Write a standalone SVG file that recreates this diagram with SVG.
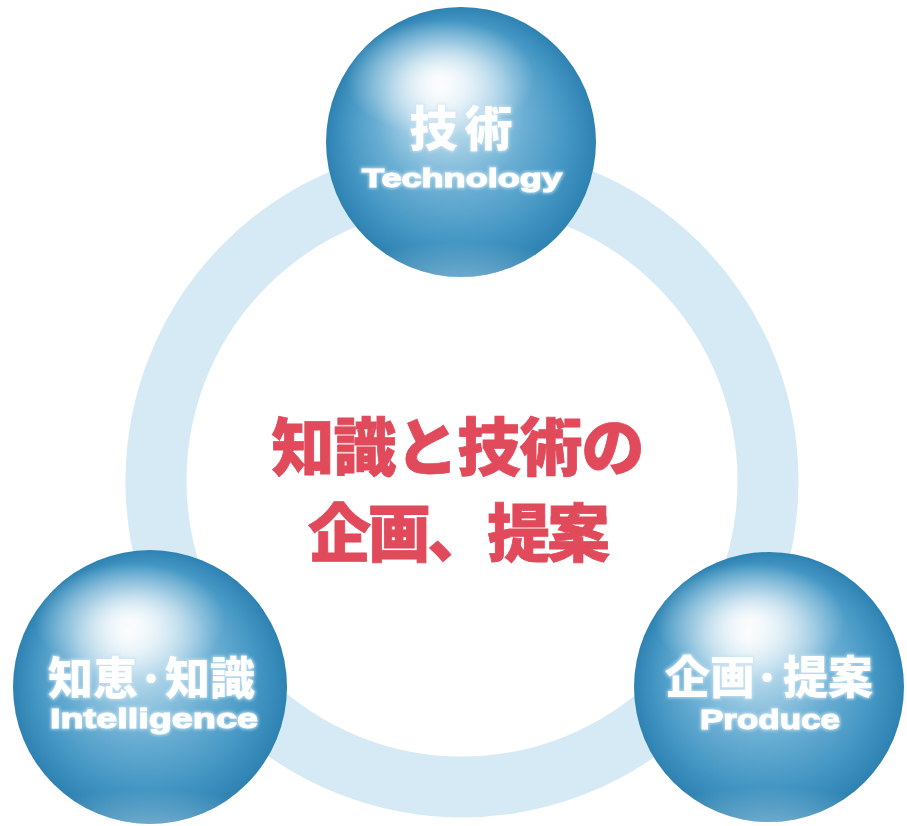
<svg xmlns="http://www.w3.org/2000/svg" width="907" height="826" viewBox="0 0 907 826">
  <style>
    .jp { font-family: "Noto Sans CJK JP", "Noto Sans CJK SC", sans-serif; font-weight: 900; text-anchor: middle; }
    .en { font-family: "Liberation Sans", Arial, sans-serif; font-weight: bold; text-anchor: middle; stroke: #ffffff; stroke-width: 1.1; paint-order: stroke; }
    .w { fill: #ffffff; filter: url(#glow); }
    .dot { stroke: #ffffff; stroke-width: 2.6; }
    .red { fill: #e04a5b; stroke: #e04a5b; stroke-width: 0.8; }
    .sphere { fill: url(#sph); }
    .hl { fill: url(#hl); }
    .bot { fill: url(#bot); }
  </style>
  <defs>
    <radialGradient id="sph" cx="0.5" cy="0.5" r="0.5" fx="0.42" fy="0.3">
      <stop offset="0" stop-color="#f3f9fc"/>
      <stop offset="0.25" stop-color="#b3d7ea"/>
      <stop offset="0.55" stop-color="#6aaed3"/>
      <stop offset="0.82" stop-color="#4396c3"/>
      <stop offset="1" stop-color="#2e82b2"/>
    </radialGradient>
    <radialGradient id="hl" cx="0.5" cy="0.5" r="0.5">
      <stop offset="0" stop-color="#ffffff" stop-opacity="0.9"/>
      <stop offset="0.5" stop-color="#ffffff" stop-opacity="0.45"/>
      <stop offset="1" stop-color="#ffffff" stop-opacity="0"/>
    </radialGradient>
    <radialGradient id="bot" cx="0.5" cy="1" r="0.6">
      <stop offset="0" stop-color="#d9eef8" stop-opacity="0.5"/>
      <stop offset="1" stop-color="#d9eef8" stop-opacity="0"/>
    </radialGradient>
    <clipPath id="cT"><circle cx="461" cy="142" r="135"/></clipPath>
    <clipPath id="cL"><circle cx="150" cy="687" r="137"/></clipPath>
    <clipPath id="cR"><circle cx="769" cy="687" r="135"/></clipPath>
    <filter id="glow" x="-20%" y="-40%" width="140%" height="180%">
      <feMorphology in="SourceAlpha" operator="dilate" radius="1" result="d"/>
      <feGaussianBlur in="d" stdDeviation="1.8" result="b"/>
      <feFlood flood-color="#c7e3f2" flood-opacity="0.8"/>
      <feComposite in2="b" operator="in" result="s"/>
      <feMerge><feMergeNode in="s"/><feMergeNode in="SourceGraphic"/></feMerge>
    </filter>
  </defs>

  <rect width="907" height="826" fill="#ffffff"/>

  <g id="connectors">
    <circle cx="462" cy="481" r="306" fill="none" stroke="#d6eaf5" stroke-width="61"/>
  </g>

  <g id="center-text">
    <text class="jp red" x="458" y="470" font-size="63" textLength="373" lengthAdjust="spacing">知識と技術の</text>
    <text class="jp red" x="459" y="556" font-size="63" textLength="302" lengthAdjust="spacing">企画、提案</text>
  </g>

  <g id="node-technology">
    <circle class="sphere" cx="461" cy="142" r="135"/>
    <g clip-path="url(#cT)">
      <ellipse class="hl" cx="440" cy="78" rx="95" ry="58"/>
      <ellipse class="bot" cx="461" cy="250" rx="120" ry="40"/>
    </g>
    <text class="jp w" x="461" y="146" font-size="48" textLength="103" lengthAdjust="spacing">技術</text>
    <text class="en w" x="462" y="187" font-size="26" textLength="200" lengthAdjust="spacingAndGlyphs">Technology</text>
  </g>

  <g id="node-intelligence">
    <circle class="sphere" cx="150" cy="687" r="137"/>
    <g clip-path="url(#cL)">
      <ellipse class="hl" cx="130" cy="621" rx="95" ry="58"/>
      <ellipse class="bot" cx="150" cy="797" rx="122" ry="40"/>
    </g>
    <text class="jp w" x="93" y="695" font-size="45">知恵</text>
    <text class="jp w dot" x="151" y="687" font-size="24">・</text>
    <text class="jp w" x="210" y="695" font-size="45">知識</text>
    <text class="en w" x="154" y="728" font-size="28" textLength="208" lengthAdjust="spacingAndGlyphs">Intelligence</text>
  </g>

  <g id="node-produce">
    <circle class="sphere" cx="769" cy="687" r="135"/>
    <g clip-path="url(#cR)">
      <ellipse class="hl" cx="750" cy="621" rx="95" ry="58"/>
      <ellipse class="bot" cx="769" cy="795" rx="120" ry="40"/>
    </g>
    <text class="jp w" x="710" y="694" font-size="45">企画</text>
    <text class="jp w dot" x="767" y="686" font-size="24">・</text>
    <text class="jp w" x="828" y="694" font-size="45">提案</text>
    <text class="en w" x="770" y="729" font-size="28" textLength="140" lengthAdjust="spacingAndGlyphs">Produce</text>
  </g>
</svg>
